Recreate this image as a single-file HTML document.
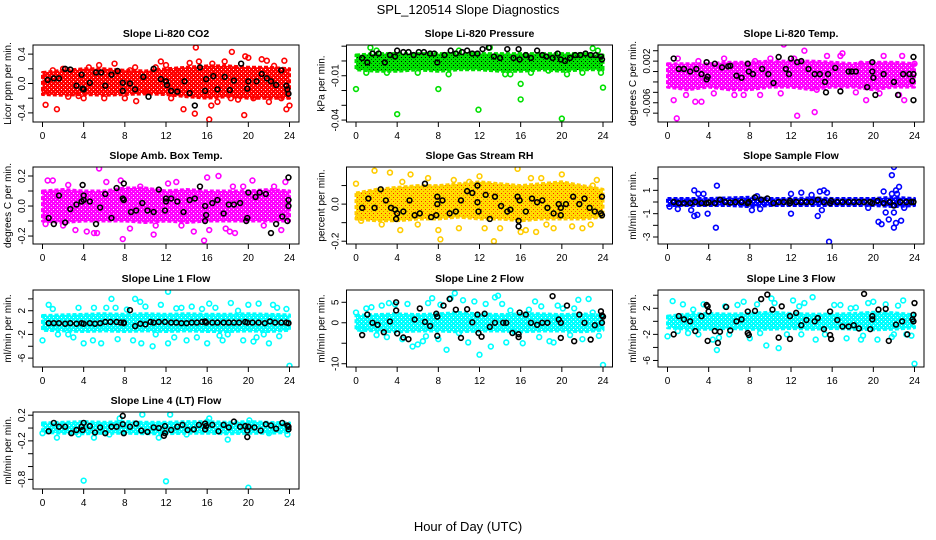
<!DOCTYPE html>
<html><head><meta charset="utf-8">
<style>
html,body{margin:0;padding:0;background:#fff;}
svg{display:block;font-family:"Liberation Sans",Arial,sans-serif;}
</style></head>
<body>
<svg id="fig" width="936" height="540" viewBox="0 0 936 540" xmlns="http://www.w3.org/2000/svg">
<text x="468" y="14" text-anchor="middle" font-size="13">SPL_120514  Slope Diagnostics</text>
<text x="468" y="531" text-anchor="middle" font-size="13">Hour of Day (UTC)</text>
</svg>
<script>
// ---------- shared x data ----------
const xTicks = [0,4,8,12,16,20,24];
const bandHours = [0,2,4,6,8,10,12,14,16,18,20,22,24];

// ---------- Panel 1: Li-820 CO2 ----------
const co2Ticks = [0.4,0.2,0,-0.2,-0.4];
const co2TickLabels = ["0.4","","0.0","","-0.4"];
const co2BandLo = [-0.15,-0.16,-0.15,-0.16,-0.15,-0.14,-0.15,-0.18,-0.2,-0.18,-0.2,-0.2,-0.2];
const co2BandHi = [0.15,0.18,0.2,0.2,0.18,0.17,0.2,0.22,0.24,0.24,0.22,0.22,0.2];
const co2Pts = [[0.3,-0.29],[1.4,-0.35],[2,0.2],[4,-0.2],[5.5,0.25],[7,0.27],[8,-0.2],[9,0.22],[9.1,-0.24],[11.5,0.3],[12,0.25],[13.7,-0.35],[14.3,0.28],[14.8,-0.41],[15.2,0.3],[16.2,-0.49],[16.4,-0.3],[17.7,0.3],[18.4,0.43],[18.3,-0.2],[19.6,-0.43],[19.7,0.37],[20,0.35],[21.3,0.33],[21.8,0.31],[23.5,0.31],[23.7,-0.35],[24,-0.3],[14.9,0.49],[3.5,-0.17],[10,-0.12],[6,-0.2],[2.5,-0.18],[17,-0.25],[22,-0.25],[12.5,-0.2],[0.2,-0.1],[1,0.18],[4.5,0.22],[8.5,0.18],[11,0.22],[13,0.15],[16.5,0.27],[19,-0.22],[20.5,-0.2],[22.5,0.24],[23.2,-0.2]];
const co2Blk = [[0.5,0.05],[1.1,0.07],[1.6,0.07],[2.2,0.2],[2.7,0.19],[3.3,-0.03],[3.8,0.12],[3.9,-0.07],[4,-0.08],[4.6,0.01],[5.2,0.15],[5.7,0.15],[6.1,-0.03],[6.7,0.12],[7.3,0.17],[7.8,-0.1],[7.8,0.01],[8.5,0],[9,-0.08],[9.8,0.09],[10.3,-0.18],[10.8,0.2],[11.5,0.06],[12,0.03],[12.1,-0.02],[12.5,-0.1],[13.1,-0.11],[13.8,0.03],[14.3,-0.13],[14.8,-0.3],[15.3,0.22],[15.8,-0.1],[15.9,0.06],[16.6,0.1],[17,-0.08],[17.7,0.09],[18.2,-0.09],[18.6,0.04],[19.3,0.27],[19.9,-0.07],[20,0.03],[20.8,0.03],[21.3,0.13],[21.8,0.07],[22.2,0.03],[22.7,-0.02],[23.2,0.18],[23.7,-0.03],[23.8,-0.08],[23.9,-0.14]];

// ---------- Panel 2: Li-820 Pressure ----------
const presTicks = [0.01,0,-0.01,-0.02,-0.03,-0.04];
const presTickLabels = ["","","-0.01","","","-0.04"];
const presBandLo = [-0.006,-0.007,-0.007,-0.006,-0.007,-0.006,-0.006,-0.007,-0.007,-0.006,-0.007,-0.006,-0.006];
const presBandHi = [0.004,0.005,0.005,0.005,0.005,0.005,0.005,0.005,0.005,0.005,0.005,0.005,0.004];
const presPts = [[0,-0.019],[4,-0.036],[8,-0.019],[1.4,0.009],[11.9,-0.033],[16,-0.026],[16,-0.0155],[20,-0.039],[24,-0.018],[18.7,-0.0065],[23.5,0.007],[23,0.0085],[13,0.009],[1,-0.008],[3,-0.008],[6,-0.008],[9,-0.009],[14.5,-0.009],[15,-0.009],[17,-0.008],[20.5,-0.009],[22,-0.008],[23.8,-0.008],[2,0.007],[10,0.007]];
const presBlk = [[0.6,0.002],[1.1,-0.001],[1.6,0.005],[2.2,0.005],[2.8,-0.001],[3.3,0.004],[3.8,0.003],[4,0.007],[4.6,0.006],[5.1,0.006],[5.6,0.004],[6.1,0.006],[6.6,0.006],[7.2,0.005],[7.6,0.005],[7.9,-0.001],[8.6,0.004],[9.2,0.007],[9.7,0.005],[10.3,0.006],[10.8,0.007],[11.3,0.005],[11.8,0.005],[12.3,0.008],[12.9,0.009],[13.4,0.003],[14,0.002],[14.7,0.008],[15.3,0.002],[15.8,0.008],[15.9,0.001],[16.5,0.004],[17,0.002],[17.6,0.007],[18.1,0.004],[18.5,0.003],[19.1,0.002],[19.6,0.005],[19.9,0.001],[20.3,0],[20.8,0.002],[21.3,0.004],[21.8,0.004],[22.3,0.005],[22.8,0.004],[23.3,0.004],[23.8,0.003],[23.9,0.001]];

// ---------- Panel 3: Li-820 Temp ----------
const tempTicks = [0.004,0.002,0,-0.002,-0.004,-0.006,-0.008];
const tempTickLabels = ["","0.002","","","","-0.006",""];
const tempBandLo = [-0.003,-0.0035,-0.003,-0.0035,-0.0035,-0.003,-0.003,-0.0035,-0.003,-0.003,-0.0035,-0.003,-0.003];
const tempBandHi = [0.0015,0.0015,0.0015,0.0018,0.0018,0.002,0.002,0.002,0.0018,0.0015,0.0018,0.0018,0.0015];
const tempPts = [[0.9,-0.009],[0.6,-0.0055],[2.7,-0.0058],[3.3,-0.0058],[11.3,0.0052],[13.3,0.004],[12.6,-0.0085],[14.3,-0.0078],[17,0.0035],[21,0.003],[19.3,-0.0055],[23,-0.0055],[1,0.0025],[6.5,-0.0045],[9,-0.0045],[15.5,0.003],[5.5,0.0025],[10,0.0025],[12.3,0.0025],[16.8,0.003],[22.8,0.003],[24,0.0015],[1.8,-0.0045],[4.5,-0.0042],[7.4,-0.0045],[11,-0.0042],[14.5,-0.0035],[18.3,-0.004],[20.6,-0.0042],[22.5,-0.0045],[8.5,0.002],[3,0.002],[18.8,0.0015]];
const tempBlk = [[0.6,0.0025],[1.1,0.0005],[1.6,0.0005],[2.2,0],[2.8,0.0005],[3.3,-0.0005],[3.8,-0.0015],[3.8,0.0018],[3.9,-0.001],[4.6,0.0015],[5.3,0.0008],[5.9,0.001],[6.1,0.0011],[6.7,-0.0008],[7.2,-0.0012],[7.8,0.0015],[7.9,0],[8.3,-0.0005],[9.2,0.0005],[9.8,-0.0005],[10.3,-0.0022],[10.8,0.0028],[11.5,0.0005],[11.8,-0.0005],[12,0.0025],[12.6,0.0018],[13,0.002],[13.7,0.0005],[14.3,-0.0005],[14.8,-0.0005],[15.3,-0.002],[15.4,-0.004],[15.6,-0.0005],[16.3,0.0007],[16.8,-0.0038],[17.6,0],[17.9,0],[18.3,0],[19.4,-0.003],[19.9,0.0018],[19.9,0],[20,-0.0012],[20.2,-0.0045],[21,-0.0005],[22,-0.002],[22.4,-0.0045],[22.9,-0.0005],[23.5,-0.0005],[23.8,-0.0018],[23.9,-0.0055],[23.9,0.0028],[23.9,-0.0005]];

// ---------- Panel 4: Amb. Box Temp ----------
const ambTicks = [0.2,0.1,0,-0.1,-0.2];
const ambTickLabels = ["0.2","","0.0","","-0.2"];
const ambBandLo = [-0.1,-0.11,-0.1,-0.1,-0.1,-0.11,-0.1,-0.11,-0.1,-0.1,-0.1,-0.1,-0.1];
const ambBandHi = [0.1,0.11,0.1,0.1,0.12,0.12,0.1,0.11,0.1,0.1,0.1,0.11,0.1];
const ambPts = [[0.5,0.17],[1,0.17],[4.3,-0.17],[5,-0.18],[5.5,0.25],[5.3,-0.18],[7.8,-0.22],[8.5,-0.15],[10.8,-0.19],[12.2,0.15],[14.7,-0.17],[15.7,-0.23],[16,0.19],[17.1,0.2],[17.8,-0.15],[18.2,-0.17],[18.7,-0.18],[20.4,0.17],[22.5,0.13],[23.2,-0.16],[23.6,0.16],[3.2,-0.16],[7.6,0.17],[6.2,0.16],[0.3,-0.12],[2,-0.13],[9.5,0.13],[11,-0.13],[13.5,-0.13],[16.2,-0.16],[19.5,0.13],[21.5,-0.13],[2.5,0.14],[13,0.16],[18.5,0.13]];
const ambBlk = [[0.6,-0.08],[1.1,-0.12],[1.6,0.07],[2.2,-0.11],[2.7,-0.02],[3.3,0.01],[3.8,0.03],[3.9,0.14],[4,0.07],[4,0.04],[4.6,0.03],[5.2,-0.12],[5.6,-0.01],[6.1,0.08],[6.7,-0.08],[7.2,0.12],[7.8,0.05],[7.9,0.04],[7.9,0.15],[8.6,-0.04],[9.1,-0.03],[9.7,0.02],[10.2,-0.03],[10.8,-0.04],[11.3,0.11],[11.9,-0.03],[12,0.03],[12,0.05],[12.5,0.05],[13.1,0.03],[13.7,-0.04],[14.3,0.04],[14.8,0.05],[15.3,0.13],[15.8,-0.1],[15.8,0],[15.9,-0.06],[16.5,0.02],[17,0.04],[17.6,-0.05],[18.1,0.01],[18.6,0.01],[19.2,0.02],[19.8,-0.1],[19.9,-0.08],[20,0.09],[20.7,0.06],[21.1,0.09],[21.7,0.08],[22.2,-0.18],[22.7,-0.12],[23.3,-0.07],[23.8,-0.1],[23.9,0.04],[23.9,0],[23.9,0.19]];

// ---------- Panel 5: Gas Stream RH ----------
const rhTicks = [0.1,0,-0.1,-0.2];
const rhTickLabels = ["","0.0","","-0.2"];
const rhBandLo = [-0.08,-0.09,-0.09,-0.08,-0.08,-0.07,-0.08,-0.08,-0.09,-0.08,-0.08,-0.08,-0.07];
const rhBandHi = [0.06,0.08,0.09,0.1,0.1,0.11,0.12,0.11,0.1,0.11,0.12,0.1,0.08];
const rhPts = [[0,0.11],[0.5,-0.09],[1.8,0.18],[3.3,0.17],[4.3,-0.14],[5.3,0.16],[4.5,0.12],[8,-0.14],[8.2,-0.19],[13.4,-0.2],[12.5,-0.13],[16,-0.15],[16.5,-0.14],[17.5,-0.15],[15.7,0.19],[20,0.16],[21,-0.12],[22,-0.13],[23,0.1],[11,0.12],[9.5,0.13],[0.2,-0.07],[2.5,-0.11],[6,-0.11],[10,-0.13],[14,-0.13],[18.5,-0.11],[19.2,-0.13],[22.8,-0.11],[7,0.14],[12,0.15],[17,0.14],[18,0.14],[23.4,0.13]];
const rhBlk = [[0.6,-0.02],[1.2,0.03],[1.8,-0.02],[2.4,0.08],[2.9,0.02],[3.4,-0.02],[3.8,-0.03],[3.9,-0.08],[4,-0.05],[4.6,-0.04],[5.2,0.02],[5.7,-0.06],[6.2,-0.05],[6.7,0.11],[7.3,-0.07],[7.8,-0.06],[7.9,0],[7.9,0.04],[8.4,0.02],[9.1,-0.05],[9.7,-0.04],[10.2,0.02],[10.8,0.07],[11.3,0.06],[11.8,0.1],[11.8,0.01],[11.9,-0.04],[12.6,0.05],[13,-0.08],[13.5,0.04],[14.1,-0.01],[14.7,-0.04],[15,-0.03],[15.7,0.04],[15.8,-0.09],[15.8,-0.12],[15.9,0.02],[16.5,-0.04],[17.1,0.03],[17.6,0.01],[18.1,0.02],[18.6,-0.02],[19.2,-0.05],[19.7,0],[19.9,-0.06],[19.9,-0.02],[20.4,0],[21.1,0.04],[21.7,0],[22.2,0.03],[22.7,-0.02],[23.2,-0.04],[23.8,-0.05],[23.9,0.04],[23.9,-0.06]];

// ---------- Panel 6: Sample Flow ----------
const sfTicks = [2,1,0,-1,-2,-3];
const sfTickLabels = ["","1","","-1","","-3"];
const sfBandLo = [-0.3,-0.3,-0.3,-0.3,-0.4,-0.3,-0.3,-0.3,-0.3,-0.3,-0.3,-0.4,-0.3];
const sfBandHi = [0.3,0.3,0.3,0.35,0.4,0.3,0.3,0.35,0.3,0.3,0.3,0.4,0.3];
const sfPts = [[2.6,1],[2.6,-1.2],[2.9,-1.1],[3,0.7],[3.5,0.7],[3.9,-1],[4.7,-2.2],[4.8,1.4],[0.2,-0.4],[12,0.7],[12,-1],[13,0.8],[14,0.6],[14.6,-1.2],[14.8,0.9],[15.2,1],[15.7,-3.4],[20.5,-1.7],[20.8,-1.9],[21,0.9],[21.5,-1.5],[21.8,2.3],[22,3],[22.2,-1.8],[22,-2.2],[22.2,1],[22.5,1.3],[22.7,-1.6],[21.2,-0.9],[22,-0.9],[22.3,0.7],[21.8,0.7],[15.5,0.8],[8.7,0.5],[1,-0.6],[2.3,-0.7],[8.2,-0.7],[9,-0.6],[15,-0.7],[19.5,-0.5],[23,-0.5]];
const sfBlk = [[0.6,0],[1.1,-0.1],[1.6,-0.1],[2.2,-0.1],[2.7,0],[3.3,-0.1],[3.8,-0.1],[4,-0.05],[4.6,-0.1],[5.1,0.2],[5.6,0],[6.1,-0.05],[6.6,0],[7.2,0],[7.8,-0.1],[7.9,0],[8.5,0.4],[9.1,0.2],[9.7,0.3],[10.3,-0.1],[10.8,0],[11.3,0],[11.9,-0.1],[11.9,0.1],[12.5,0],[13,0],[13.5,0],[14,0],[14.6,0.2],[15.2,0],[15.8,-0.1],[15.9,0.1],[16.5,0],[17,0],[17.6,0],[18.1,0],[18.6,0],[19.1,0],[19.7,0],[19.9,-0.1],[20.4,0.1],[21,-0.1],[21.6,0],[22,-0.3],[22.6,0],[23.2,0],[23.7,0],[23.9,0]];

// ---------- Panel 7: Line 1 Flow ----------
const l1Ticks = [4,2,0,-2,-4,-6];
const l1TickLabels = ["","2","","-2","","-6"];
const l1BandLo = [-1.3,-1.4,-1.5,-1.4,-1.5,-1.4,-1.5,-1.4,-1.5,-1.5,-1.4,-1.5,-1.3];
const l1BandHi = [1.2,1.3,1.4,1.5,1.4,1.5,1.4,1.5,1.4,1.4,1.5,1.4,1.3];
const l1Pts = [[0,-3],[0.6,3],[1,2.3],[4,-3.5],[4.9,-3],[5.7,-3.5],[6.2,2.5],[6.7,4],[7.1,2.5],[7.3,-2.8],[8.2,2.2],[9,4],[9.5,3.5],[9.6,-3.5],[10.7,-4],[11.5,3],[12.2,5.2],[12.2,-3.5],[13,2.4],[14,-3],[15,-2.5],[16,-3.5],[16.2,3.2],[17.5,-3],[18.3,3.3],[19.5,-3],[20,3],[20.5,-3.2],[21,3.2],[22,-3.5],[22.4,3],[23.7,2.3],[24,-7.3],[2.5,-2],[3,-2.5],[11,-2],[13.5,2.5],[15.5,2.3],[18,-2],[19,2],[21.5,-2],[23,-2.3],[1.5,-2],[3.5,2.5],[5,2.5],[8.8,-3],[10,2.7],[12.8,-2.5],[14.5,2.7],[16.8,2.5],[17.2,-2.2],[20.8,-2.5],[22.8,2.5]];
const l1Blk = [[0.6,-0.1],[1.1,-0.1],[1.6,-0.1],[2.2,-0.2],[2.7,-0.1],[3.3,-0.2],[3.8,-0.1],[4,-0.2],[4.6,-0.1],[5.1,-0.2],[5.6,-0.1],[6.1,0.1],[6.6,0.1],[7.2,0.1],[7.6,0],[7.9,0],[7.9,-0.1],[8.5,2.1],[9,-0.6],[9.5,-0.2],[10,-0.3],[10.5,0.1],[10.8,0],[11.3,0.1],[11.9,0.1],[12.5,0],[13,0],[13.5,-0.1],[14,-0.1],[14.5,0],[15,0],[15.5,0.1],[15.8,0.2],[15.9,0],[16.5,0],[17,0],[17.6,0],[18.1,0],[18.6,0],[19.1,0],[19.7,0.1],[19.9,0],[20.4,0],[21,0],[21.6,-0.1],[22.1,0.2],[22.6,0],[23.2,0],[23.7,0],[23.9,-0.1]];

// ---------- Panel 8: Line 2 Flow ----------
const l2Ticks = [5,0,-5,-10];
const l2TickLabels = ["5","0","","-10"];
const l2BandLo = [-1.8,-2,-2.2,-2,-2,-2.2,-2,-2,-2.2,-2,-2,-2.2,-1.8];
const l2BandHi = [1.8,2,2.2,2,2.2,2.5,2.2,2,2.2,2.2,2,2.2,1.8];
const l2Pts = [[0,2.5],[0.5,-1.5],[1,3.5],[1.5,3.8],[2,-3],[2.5,4.2],[3,-3.5],[3.2,4.8],[4.5,-4],[5,4.6],[5.5,-5.8],[6,-5.3],[6.5,-4.5],[7,4.8],[7.4,6],[8,-4],[8.2,4.4],[8.8,-6.6],[9.2,6],[9.6,7.2],[10.4,5.5],[10.9,-4.8],[11.5,5.2],[12,-7.8],[12.6,4.6],[13.1,-5.8],[13.5,6.2],[13.8,6.6],[14.2,4.6],[14.6,-4.8],[15.4,-2.2],[16.2,-5],[16.8,3.2],[17.4,5.2],[18,4],[18.8,-4.5],[19.2,-4.8],[19.6,4.2],[20.1,3.5],[20.8,-3],[21.6,5.6],[22,-4],[22.6,5.8],[23,2.5],[23.6,-3.2],[24,-10.3],[3.8,4.5],[6.8,-3.3],[10,-2.5],[15,3],[17.8,-3.5],[21.2,3.5]];
const l2Blk = [[0.6,-3],[1.1,2],[1.6,0],[2.1,-0.5],[2.7,-2.3],[3.3,0.3],[3.9,5],[3.9,3],[4,-2.6],[4.6,-3.6],[5.1,-4],[5.7,0.8],[6.2,3.5],[6.7,0.2],[7.2,-0.8],[7.8,2.2],[7.9,1.5],[7.9,-3.2],[8.5,4.2],[9.1,5.8],[9.7,3.2],[10.2,-3.7],[10.8,3.3],[11.3,0.1],[11.8,2],[11.9,-2.5],[12.2,-3.4],[12.5,2.2],[13,-1],[13.5,0],[14.3,0],[14.6,0],[15.2,-2.5],[15.8,-2.8],[15.8,-3.5],[15.9,2.5],[16.5,2],[17,0],[17.6,-0.5],[18.1,0],[18.6,0],[19.1,6.5],[19.7,0.8],[19.9,-3.7],[19.9,0],[20.5,4.2],[21.2,-4.5],[21.7,2],[22.2,0],[22.8,-4.1],[23.2,-0.6],[23.8,2.8],[23.9,1.8],[23.9,0],[24,1.5]];

// ---------- Panel 9: Line 3 Flow ----------
const l3Ticks = [4,2,0,-2,-4,-6];
const l3TickLabels = ["","2","","-2","","-6"];
const l3BandLo = [-1,-1.2,-1.2,-1.1,-1.2,-1.2,-1.1,-1.2,-1.1,-1.2,-1.3,-1.2,-1];
const l3BandHi = [0.8,1.1,1.2,1.1,1.2,1.4,1.2,1.1,1.1,1.2,1.4,1.3,1];
const l3Pts = [[0.5,3.1],[0,-2.3],[1.5,2.6],[2,-1.8],[3,-2],[3.5,2.6],[4.4,-2.8],[4.8,-4.4],[5.6,2.3],[6,-2],[6.8,2.5],[7.4,3],[8,-2.6],[8.7,2.6],[9.6,-3.7],[10.1,3.5],[10.4,2.8],[10.8,-4.1],[11.6,-2],[12.2,3.2],[12.8,2.3],[13.3,2.8],[14.1,3.7],[14.4,-2.8],[15.3,-2],[16.2,2.5],[16.8,2.5],[17.4,-2.6],[18.3,2.1],[18.8,-2.8],[19.5,2.8],[20,3],[20.4,-2.8],[21.2,2.6],[21.8,-2.4],[22.4,2.4],[22.9,3.2],[23.2,-2],[23.7,-2.2],[24,-6.5],[1,-1.5],[2.5,1.8],[5,-2.5],[9,-1.8],[13,-2],[17.8,2],[19,-2.2],[22,-2]];
const l3Blk = [[0.6,-2],[1.1,0.8],[1.6,0.3],[2.2,0],[2.7,-1.5],[3.3,0.8],[3.8,2.5],[3.9,2.3],[3.9,-3],[4,1.5],[4.6,-1.5],[4.9,-3.3],[5.1,-1.6],[5.7,2.2],[6.1,-1.4],[6.7,0],[7.2,0.3],[7.8,-1.8],[7.8,1.5],[7.9,-2.1],[8.5,1.6],[9.1,3.4],[9.7,4.1],[10.2,1.8],[10.8,-2.5],[11.1,2.3],[11.9,-2.7],[11.9,0.8],[12.5,1.3],[13,-0.6],[13.5,0.2],[14.3,0],[14.6,0.5],[15.2,-1.2],[15.8,1.5],[15.8,-2.1],[15.9,-2.7],[16.5,0.2],[17,-0.8],[17.6,-0.8],[18.1,-0.6],[18.6,-1.1],[19.1,4.2],[19.7,-1.2],[19.9,0.8],[19.9,0.3],[20.5,1.8],[21.2,1.9],[21.5,-3],[22.2,-0.5],[22.8,0],[23.3,-2],[23.8,0.3],[23.9,1],[23.9,0],[24,2.8]];

// ---------- Panel 10: Line 4 (LT) Flow ----------
const l4Ticks = [0.2,0,-0.2,-0.4,-0.6,-0.8];
const l4TickLabels = ["0.2","","-0.2","","","-0.8"];
const l4BandLo = [-0.07,-0.08,-0.09,-0.08,-0.08,-0.09,-0.09,-0.08,-0.08,-0.09,-0.08,-0.08,-0.07];
const l4BandHi = [0.08,0.09,0.1,0.09,0.1,0.09,0.09,0.1,0.1,0.09,0.1,0.09,0.08];
const l4Pts = [[4,-0.82],[12,-0.83],[20,-0.93],[9.7,0.21],[12.4,0.21],[18,-0.18],[0,-0.08],[1.4,-0.15],[5,-0.15],[11.3,-0.15],[16,0.1],[7.5,0.15],[16.2,0.15],[20.1,0.12],[23.8,-0.1],[6.5,-0.1],[3.5,-0.1],[14,-0.1],[22,-0.08]];
const l4Blk = [[0.6,-0.05],[1.1,0.08],[1.6,0.02],[2.2,0.02],[2.8,-0.08],[3.3,-0.03],[3.8,0.02],[3.9,-0.03],[4,0.08],[4.6,0.03],[5.1,-0.07],[5.6,0.01],[6.1,-0.08],[6.7,0.02],[7.2,0.02],[7.8,0.19],[7.8,0.06],[7.9,-0.08],[8.5,0.02],[9.1,0.07],[9.6,-0.04],[10.2,-0.06],[10.8,0.01],[11.3,0],[11.8,-0.12],[11.9,-0.08],[11.9,0.03],[12.5,-0.03],[13.1,0.02],[13.6,0.05],[14.1,-0.03],[14.7,-0.02],[15.2,0.05],[15.8,0.07],[15.8,-0.02],[15.9,0.03],[16.5,0.05],[17.1,-0.05],[17.6,0.05],[18.1,0.01],[18.6,0.1],[19.2,0.02],[19.7,0.03],[19.9,-0.04],[19.9,-0.14],[20,0.02],[20.6,0.01],[21.2,-0.04],[21.7,0.06],[22.2,0.04],[22.7,-0.01],[23.3,0.08],[23.8,0.04],[23.9,-0.02],[23.9,0.02]];

// ---------- panel configs (layout only) ----------
const NS = "http://www.w3.org/2000/svg";
const svg = document.getElementById('fig');
const colL = [33, 346.5, 658];
const rowT = [45, 167, 290, 412];
const BW = 266, BH = 77;

const panels = [
 {name:'co2', title:'Slope Li-820 CO2', ylab:'Licor ppm per min.', c:0,r:0, ymin:-0.524, ymax:0.524, ticks:co2Ticks, labs:co2TickLabels, lo:co2BandLo, hi:co2BandHi, pts:co2Pts, blk:co2Blk, col:'#ff0000', band:'#ff0000', dot:'#ffffff'},
 {name:'pressure', title:'Slope Li-820 Pressure', ylab:'kPa per min.', c:1,r:0, ymin:-0.0413, ymax:0.0108, ticks:presTicks, labs:presTickLabels, lo:presBandLo, hi:presBandHi, pts:presPts, blk:presBlk, col:'#00e000', band:'#00e000', dot:'#000000'},
 {name:'temp', title:'Slope Li-820 Temp.', ylab:'degrees C per min.', c:2,r:0, ymin:-0.0097, ymax:0.0051, ticks:tempTicks, labs:tempTickLabels, lo:tempBandLo, hi:tempBandHi, pts:tempPts, blk:tempBlk, col:'#ff00ff', band:'#ff00ff', dot:'#ffffff'},
 {name:'amb-box-temp', title:'Slope Amb. Box Temp.', ylab:'degrees C per min.', c:0,r:1, ymin:-0.253, ymax:0.26, ticks:ambTicks, labs:ambTickLabels, lo:ambBandLo, hi:ambBandHi, pts:ambPts, blk:ambBlk, col:'#ff00ff', band:'#ff00ff', dot:'#ffffff'},
 {name:'gas-rh', title:'Slope Gas Stream RH', ylab:'percent per min.', c:1,r:1, ymin:-0.215, ymax:0.2, ticks:rhTicks, labs:rhTickLabels, lo:rhBandLo, hi:rhBandHi, pts:rhPts, blk:rhBlk, col:'#ffcc00', band:'#ffdd00', dot:'#ff2200'},
 {name:'sample-flow', title:'Slope Sample Flow', ylab:'ml/min per min.', c:2,r:1, ymin:-3.6, ymax:3.0, ticks:sfTicks, labs:sfTickLabels, lo:sfBandLo, hi:sfBandHi, pts:sfPts, blk:sfBlk, col:'#0000ff', band:'#0000ff', dot:'#ffffff'},
 {name:'line1-flow', title:'Slope Line 1 Flow', ylab:'ml/min per min.', c:0,r:2, ymin:-7.5, ymax:5.5, ticks:l1Ticks, labs:l1TickLabels, lo:l1BandLo, hi:l1BandHi, pts:l1Pts, blk:l1Blk, col:'#00ffff', band:'#00ffff', dot:'#ffffff'},
 {name:'line2-flow', title:'Slope Line 2 Flow', ylab:'ml/min per min.', c:1,r:2, ymin:-10.8, ymax:8.0, ticks:l2Ticks, labs:l2TickLabels, lo:l2BandLo, hi:l2BandHi, pts:l2Pts, blk:l2Blk, col:'#00ffff', band:'#00ffff', dot:'#ffffff'},
 {name:'line3-flow', title:'Slope Line 3 Flow', ylab:'ml/min per min.', c:2,r:2, ymin:-7.0, ymax:4.8, ticks:l3Ticks, labs:l3TickLabels, lo:l3BandLo, hi:l3BandHi, pts:l3Pts, blk:l3Blk, col:'#00ffff', band:'#00ffff', dot:'#ffffff'},
 {name:'line4-flow', title:'Slope Line 4 (LT) Flow', ylab:'ml/min per min.', c:0,r:3, ymin:-0.95, ymax:0.25, ticks:l4Ticks, labs:l4TickLabels, lo:l4BandLo, hi:l4BandHi, pts:l4Pts, blk:l4Blk, col:'#00ffff', band:'#00ffff', dot:'#ffffff'}
];

function mk(tag, attrs, parent){
  const e = document.createElementNS(NS, tag);
  for (const k in attrs) e.setAttribute(k, attrs[k]);
  parent.appendChild(e);
  return e;
}
const defs = mk('defs', {}, svg);

panels.forEach(p => {
  const L = colL[p.c], T = rowT[p.r];
  const xs = h => L + 9.5 + h * (247/24);
  const ys = v => T + (p.ymax - v) / (p.ymax - p.ymin) * BH;
  const g = mk('g', {}, svg);
  
  

  const t = mk('text', {x: L + BW/2, y: T - 8, 'text-anchor':'middle', 'font-size':'10.5', 'font-weight':'bold'}, g);
  
  
  t.textContent = p.title;

  // texture pattern
  const pat = mk('pattern', {id: 'pat-' + p.name, width: 4, height: 4, patternUnits: 'userSpaceOnUse'}, defs);
  mk('rect', {x:0, y:0, width:4, height:4, fill: p.band}, pat);
  mk('rect', {x:1, y:1, width:1, height:1, fill: p.dot}, pat);
  mk('rect', {x:3, y:3, width:1, height:1, fill: p.dot, opacity: 0.6}, pat);

  const cp = mk('clipPath', {id: 'clip-' + p.name}, g);
  mk('rect', {x: L, y: T, width: BW, height: BH}, cp);
  const plot = mk('g', {'clip-path': 'url(#clip-' + p.name + ')'}, g);
  
  

  let d = '';
  bandHours.forEach((h,i) => { d += (i ? 'L' : 'M') + xs(h).toFixed(1) + ',' + ys(p.hi[i]).toFixed(1); });
  for (let i = bandHours.length - 1; i >= 0; i--) d += 'L' + xs(bandHours[i]).toFixed(1) + ',' + ys(p.lo[i]).toFixed(1);
  d += 'Z';
  const band = mk('path', {d: d, fill: 'url(#pat-' + p.name + ')', stroke: p.col, 'stroke-width': 3, 'stroke-dasharray': '4 2', 'stroke-linejoin':'round'}, plot);
  
  

  p.pts.forEach(pt => {
    const c = mk('circle', {cx: xs(pt[0]), cy: ys(pt[1]), r: 2.4, fill: 'none', stroke: p.col, 'stroke-width': 1.6}, plot);
    
    
  });
  p.blk.forEach(pt => {
    const c = mk('circle', {cx: xs(pt[0]), cy: ys(pt[1]), r: 2.4, fill: 'none', stroke: '#000', 'stroke-width': 1.6}, plot);
    
    
  });

  const box = mk('rect', {x: L, y: T, width: BW, height: BH, fill: 'none', stroke: '#000', 'stroke-width': 1}, g);
  
  

  const xa = mk('g', {}, g);
  
  
  mk('line', {x1: xs(xTicks[0]), x2: xs(xTicks[xTicks.length-1]), y1: T+BH, y2: T+BH, stroke:'#000'}, xa);
  xTicks.forEach(h => {
    mk('line', {x1: xs(h), x2: xs(h), y1: T+BH, y2: T+BH+5, stroke:'#000'}, xa);
    const tl = mk('text', {x: xs(h), y: T+BH+17, 'text-anchor':'middle', 'font-size':'10'}, xa);
    
    
    tl.textContent = String(h);
  });

  const ya = mk('g', {}, g);
  
  
  mk('line', {x1: L, x2: L, y1: ys(p.ticks[0]), y2: ys(p.ticks[p.ticks.length-1]), stroke:'#000'}, ya);
  p.ticks.forEach((v,i) => {
    const y = ys(v);
    mk('line', {x1: L-5, x2: L, y1: y, y2: y, stroke:'#000'}, ya);
    if (p.labs[i]) {
      const tl = mk('text', {x: L-8, y: y, 'text-anchor':'middle', 'font-size':'10', transform:'rotate(-90 ' + (L-8) + ' ' + y + ')'}, ya);
      
      
      tl.textContent = p.labs[i];
    }
  });
  const yl = mk('text', {x: L-22, y: T+BH/2, 'text-anchor':'middle', 'font-size':'10', transform:'rotate(-90 ' + (L-22) + ' ' + (T+BH/2) + ')'}, g);
  
  
  yl.textContent = p.ylab;
});
</script>
</body></html>
